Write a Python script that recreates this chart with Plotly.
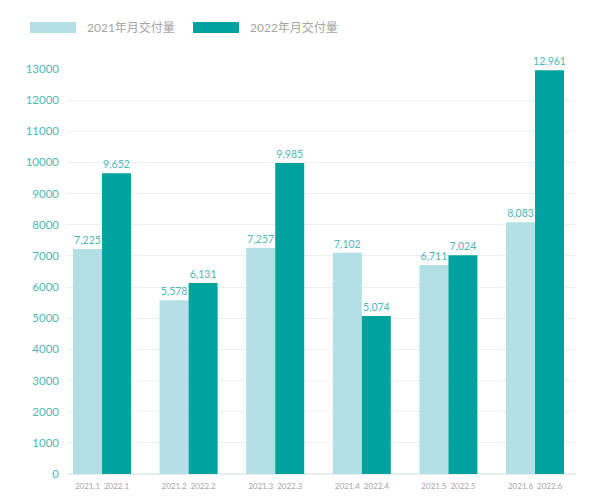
import plotly.graph_objects as go

months = ["1", "2", "3", "4", "5", "6"]
series_names = ["2021年月交付量", "2022年月交付量"]
deliveries_2021 = [7225, 5578, 7257, 7102, 6711, 8083]
deliveries_2022 = [9652, 6131, 9985, 5074, 7024, 12961]
years = ["2021", "2022"]
y_ticks = list(range(0, 13001, 1000))

light = "#b2e0e5"
dark = "#00a29e"
label_teal = "#4fb8b3"
gray = "#a5a5a5"
font_family = "Lato, 'Noto Sans CJK SC', sans-serif"

idx = list(range(len(months)))
half = 0.335 / 2

fig = go.Figure()
for name, vals, col in [(series_names[0], deliveries_2021, light),
                        (series_names[1], deliveries_2022, dark)]:
    fig.add_trace(go.Bar(
        x=idx, y=vals, name=name, marker=dict(color=col, line=dict(width=0)),
        texttemplate="%{y:,}", textposition="outside",
        textfont=dict(color=label_teal, size=10.5, family=font_family),
        constraintext="none", cliponaxis=False, showlegend=False,
    ))

tickvals, ticktext = [], []
for i, m in zip(idx, months):
    tickvals += [i - half, i + half]
    ticktext += [f"{years[0]}.{m}", f"{years[1]}.{m}"]

fig.update_layout(
    width=600, height=503,
    margin=dict(l=67, r=24, t=69, b=29, autoexpand=False),
    plot_bgcolor="white", paper_bgcolor="white",
    barmode="group", bargap=0.33, bargroupgap=0,
    font=dict(family=font_family),
    xaxis=dict(range=[-0.404, 5.473], tickvals=tickvals, ticktext=ticktext,
               showgrid=False, zeroline=False, ticks="", tickangle=0,
               automargin=False, ticklabelstandoff=6,
               tickfont=dict(size=8, color=gray, family=font_family),
               showline=False),
    yaxis=dict(range=[0, 13000], tickvals=y_ticks, tickformat="d",
               showgrid=True, automargin=False,
               gridcolor="#eeeeee", gridwidth=1, zeroline=True,
               zerolinecolor="#e6eef0", zerolinewidth=1.5,
               tickfont=dict(size=11.5, color=label_teal, family=font_family),
               ticks="", ticklabelstandoff=7),
)

# legend drawn as wide swatches + labels
legend_items = [(series_names[0], light, 30), (series_names[1], dark, 193)]
for name, col, x0 in legend_items:
    fig.add_shape(type="rect", xref="paper", yref="paper",
                  x0=(x0 - 67) / 509, x1=(x0 + 46 - 67) / 509,
                  y0=(503 - 29 - 33) / 405, y1=(503 - 29 - 22) / 405,
                  fillcolor=col, line=dict(width=0))
    fig.add_annotation(text=name, xref="paper", yref="paper",
                       x=(x0 + 55 - 67) / 509, y=(503 - 29 - 27.5) / 405,
                       xanchor="left", yanchor="middle", showarrow=False,
                       font=dict(size=12, color=gray, family=font_family))

fig.write_html("out.html")
